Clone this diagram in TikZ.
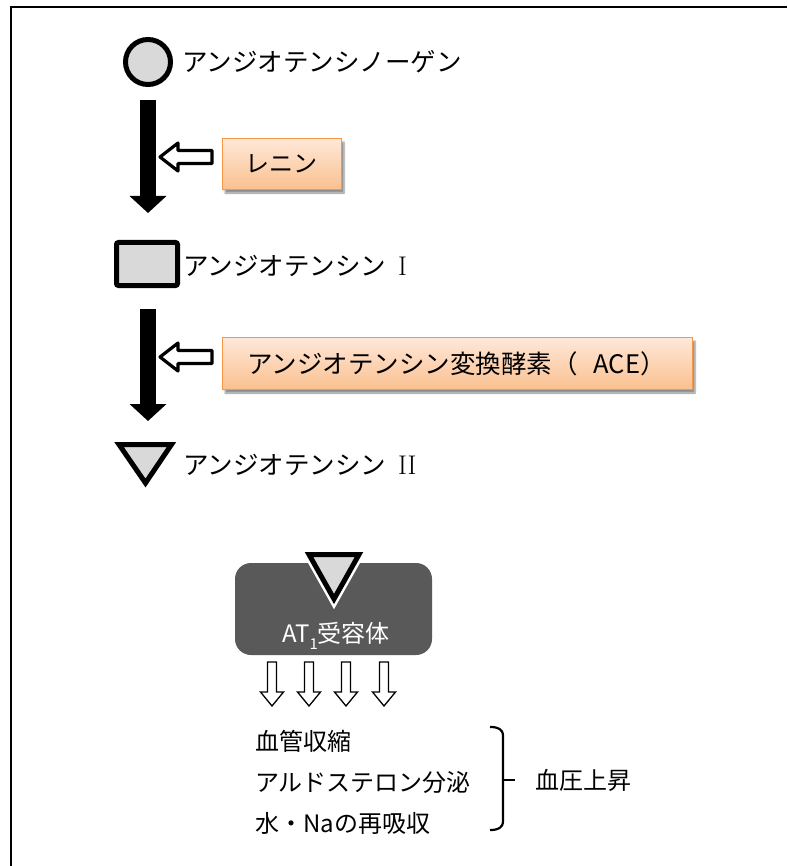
\documentclass[tikz,border=0pt]{standalone}
\usepackage{fontspec}
\newfontfamily\jp{Noto Sans CJK JP}
\usetikzlibrary{shadows.blur,arrows.meta}
\definecolor{molgray}{HTML}{D9D9D9}
\definecolor{boxtop}{HTML}{FFE8D9}
\definecolor{boxbot}{HTML}{FAC08F}
\definecolor{boxline}{HTML}{F79646}
\definecolor{recgray}{HTML}{595959}
\tikzset{
  lbl/.style={anchor=west, inner sep=0pt, font=\jp\fontsize{25.5}{27}\selectfont},
  smalllbl/.style={anchor=west, inner sep=0pt, font=\jp\fontsize{24}{26}\selectfont},
  enzyme/.style={draw=boxline, line width=1.8pt, top color=boxtop, bottom color=boxbot,
    inner sep=0pt, blur shadow={shadow xshift=2.5pt, shadow yshift=-3.5pt, shadow blur steps=6, shadow opacity=45}},
  bigarrow/.style={line width=16pt, -{Triangle[width=36pt,length=17pt]}},
  hollowleft/.style={draw=black, fill=white, line width=3.2pt, line join=round},
  hollowdown/.style={draw=black, fill=white, line width=1.3pt, line join=miter},
  mol/.style={draw=black, fill=molgray, line width=5pt},
  brace/.style={line width=2.2pt}
}
\begin{document}
\begin{tikzpicture}[x=1pt,y=-1pt]
\useasboundingbox (0,0) rectangle (787,866);
% frame
\draw[line width=2pt] (11,866) -- (11,7) -- (787,7);

% angiotensinogen
\node[mol, circle, minimum size=45pt, inner sep=0pt] (ago) at (148,62) {};
\node[lbl] (agot) at (182,62) {アンジオテンシノーゲン};

% arrow 1 + renin
\coordinate (a1s) at (148,100);
\coordinate (a1e) at (148,213);
\draw[bigarrow] (a1s) -- (a1e);
\draw[hollowleft] (212,150.5) -- (178,150.5) -- (178,143) -- (160,157) -- (178,171) -- (178,163.5) -- (212,163.5) -- cycle;
\node[enzyme, minimum width=119pt, minimum height=51pt] (renin) at (282,164) {};
\node[smalllbl] (renint) at (245,164) {レニン};

% angiotensin I
\draw[mol, rounded corners=2pt] (116.5,242.5) rectangle (177.5,285.5);
\node[lbl] (a1t) at (183,266) {アンジオテンシン\hspace{12pt}{\rmfamily\fontsize{27}{28}\selectfont I}};

% arrow 2 + ACE
\coordinate (a2s) at (148,309);
\coordinate (a2e) at (148,421);
\draw[bigarrow] (a2s) -- (a2e);
\draw[hollowleft] (212,350.5) -- (178,350.5) -- (178,343) -- (160,357) -- (178,371) -- (178,363.5) -- (212,363.5) -- cycle;
\node[enzyme, minimum width=470pt, minimum height=52pt] (ace) at (457.5,363.5) {};
\node[lbl] (acet) at (247,363.5) {アンジオテンシン変換酵素（\hspace{16pt}ACE）};

% angiotensin II
\draw[mol, line join=miter] (119,444.5) -- (171.5,444.5) -- (145.5,483) -- cycle;
\node[lbl] (a2t) at (183,465) {アンジオテンシン\hspace{12pt}{\rmfamily\fontsize{27}{28}\selectfont II}};

% AT1 receptor
\node[fill=recgray, rounded corners=16pt, minimum width=197pt, minimum height=92pt, inner sep=0pt] (at1) at (333.5,609) {};
\draw[white, line width=10pt, line join=miter] (309,554.5) -- (359,554.5) -- (334,599) -- cycle;
\draw[mol, line join=miter] (309,554.5) -- (359,554.5) -- (334,599) -- cycle;
\node[smalllbl, anchor=center, text=white] (at1t) at (336,636) {AT\raisebox{-0.3em}{\fontsize{15}{15}\selectfont 1}受容体};

% hollow down arrows
\foreach \x in {272,309,346,384}{
  \draw[hollowdown] (\x-4.5,662) -- (\x+4.5,662) -- (\x+4.5,692) -- (\x+11.5,692) -- (\x,706) -- (\x-11.5,692) -- (\x-4.5,692) -- cycle;
}

% effects
\node[smalllbl] (e1) at (255,741) {血管収縮};
\node[smalllbl] (e2) at (255,782) {アルドステロン分泌};
\node[smalllbl] (e3) at (255,823) {水・Naの再吸収};

% brace
\coordinate (bt) at (490,727);
\coordinate (bb) at (490,830);
\coordinate (bm) at (503,780);
\coordinate (bs) at (515,780);
\draw[brace] (bt) .. controls (498,727) and (503,729) .. (503,736) -- (503,821) .. controls (503,828) and (498,830) .. (bb);
\draw[brace] (bm) -- (bs);
\node[smalllbl] (bp) at (535,780) {血圧上昇};
\end{tikzpicture}
\end{document}
